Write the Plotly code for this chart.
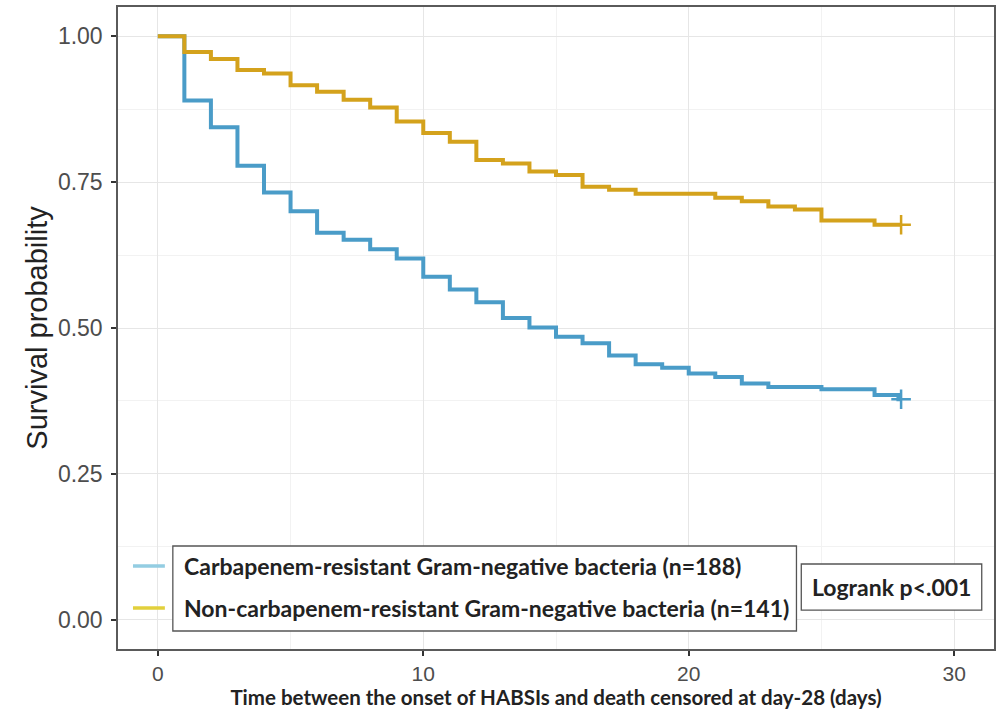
import plotly.graph_objects as go

# ---- data ----
cr_time = [0, 1, 2, 3, 4, 5, 6, 7, 8, 9, 10, 11, 12, 13, 14, 15, 16, 17, 18, 19, 20, 21, 22, 23, 25, 27, 27.9, 28]
cr_surv = [1.0, 0.890, 0.844, 0.778, 0.732, 0.700, 0.663, 0.651, 0.635, 0.619, 0.588, 0.566, 0.544, 0.517,
           0.501, 0.485, 0.474, 0.453, 0.438, 0.432, 0.422, 0.416, 0.405, 0.399, 0.395, 0.385, 0.378, 0.378]

ncr_time = [0, 1, 2, 3, 4, 5, 6, 7, 8, 9, 10, 11, 12, 13, 14, 15, 16, 17, 18, 21, 22, 23, 24, 25, 27, 28]
ncr_surv = [1.0, 0.973, 0.961, 0.942, 0.936, 0.916, 0.905, 0.891, 0.878, 0.854, 0.834, 0.819, 0.788, 0.782,
            0.768, 0.762, 0.742, 0.737, 0.730, 0.723, 0.717, 0.708, 0.703, 0.684, 0.677, 0.677]

labels = ["Carbapenem-resistant Gram-negative bacteria (n=188)",
          "Non-carbapenem-resistant Gram-negative bacteria (n=141)"]
pval_text = "Logrank p<.001"
y_ticks = [0, 0.25, 0.5, 0.75, 1.0]
y_ticktext = ["0.00", "0.25", "0.50", "0.75", "1.00"]
x_ticks = [0, 10, 20, 30]

BLUE = "#4a9cc8"
GOLD = "#d4a21c"
BLUE_KEY = "#93cde2"
GOLD_KEY = "#e2d03c"

fig = go.Figure()
for t, s, c in [(cr_time, cr_surv, BLUE), (ncr_time, ncr_surv, GOLD)]:
    fig.add_trace(go.Scatter(x=t, y=s, mode="lines", line=dict(color=c, width=4, shape="hv"),
                             showlegend=False, hoverinfo="skip"))
    fig.add_trace(go.Scatter(x=[t[-1]], y=[s[-1]], mode="markers",
                             marker=dict(symbol="cross-thin", size=14, line=dict(color=c, width=2.5)),
                             showlegend=False, hoverinfo="skip"))

TXT = dict(family="Lato, 'Open Sans', sans-serif", size=23, color="#222222")

# legend box, keys, and labels
fig.add_shape(type="rect", xref="paper", yref="paper", x0=0.0626, x1=0.7745, y0=0.028, y1=0.1604,
              line=dict(color="#555555", width=1.3), fillcolor="white", layer="above")
for yk, col, lab in [(0.1293, BLUE_KEY, labels[0]), (0.0639, GOLD_KEY, labels[1])]:
    fig.add_shape(type="line", xref="paper", yref="paper", x0=0.0171, x1=0.0535, y0=yk, y1=yk,
                  line=dict(color=col, width=3.5), layer="above")
    fig.add_annotation(xref="paper", yref="paper", x=0.0729, y=yk, text="<b>%s</b>" % lab,
                       showarrow=False, xanchor="left", yanchor="middle", font=TXT)

fig.add_shape(type="rect", xref="paper", yref="paper", x0=0.780, x1=0.986, y0=0.0607, y1=0.1324,
              line=dict(color="#555555", width=1.3), fillcolor="white", layer="above")
fig.add_annotation(xref="paper", yref="paper", x=0.8827, y=0.0966, text="<b>%s</b>" % pval_text,
                   showarrow=False, xanchor="center", yanchor="middle", font=TXT)

axis_common = dict(showline=True, linecolor="#5a5a5a", linewidth=1.5, mirror=True,
                   ticks="outside", ticklen=5, tickcolor="#333333", tickwidth=1.5,
                   showgrid=True, gridcolor="#e6e6e6", gridwidth=1.2, zeroline=False)

fig.update_xaxes(range=[-1.5, 31.5], tickvals=x_ticks,
                 tickfont=dict(family="Liberation Sans, Arial, sans-serif", size=21, color="#4d4d4d"),
                 minor=dict(dtick=5, tick0=0, showgrid=True, gridcolor="#f2f2f2", gridwidth=1, ticks=""),
                 title=dict(text="<b>Time between the onset of HABSIs and death censored at day-28 (days)</b>",
                            font=dict(family="Lato, 'Open Sans', sans-serif", size=20.5, color="#222222"),
                            standoff=2),
                 **axis_common)
fig.update_yaxes(range=[-0.05, 1.05], tickvals=y_ticks, ticktext=y_ticktext,
                 tickfont=dict(family="Liberation Sans, Arial, sans-serif", size=23, color="#4d4d4d"),
                 ticklabelstandoff=4,
                 minor=dict(dtick=0.125, tick0=0, showgrid=True, gridcolor="#f2f2f2", gridwidth=1, ticks=""),
                 title=dict(text="Survival probability",
                            font=dict(family="Liberation Sans, Arial, sans-serif", size=29, color="#222222"),
                            standoff=2),
                 **axis_common)

fig.update_layout(width=1000, height=711, margin=dict(l=118, r=4, t=7, b=62),
                  plot_bgcolor="white", paper_bgcolor="white")

fig.write_html("out.html")
